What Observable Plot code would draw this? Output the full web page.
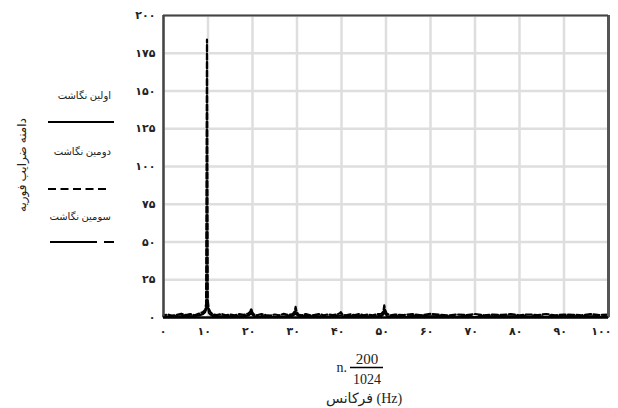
<!DOCTYPE html>
<html><head><meta charset="utf-8">
<script src="https://cdn.jsdelivr.net/npm/d3@7"></script>
<script src="https://cdn.jsdelivr.net/npm/@observablehq/plot@0.6"></script>
<style>body{margin:0;background:#fff}</style>
</head><body><div id="chart"></div>
<script>
const freq = [0,1,2,3,4,5,6,7,8,8.8,
  9.38,9.57,9.77,9.96,10.16,10.55,11,12,13,14,
  15,16,17,18,19,19.53,19.73,19.92,20.3,21,
  22,23,24,25,26,27,28,29,29.49,29.69,
  29.88,30.3,31,32,33,34,35,36,37,38,
  39,39.65,39.84,40.2,41,42,43,44,45,46,
  47,48,49,49.41,49.61,49.8,50.2,51,52,54,
  56,58,60,62,64,66,68,70,72,74,
  76,78,80,82,84,86,88,90,92,94,
  96,98,100];
const record1 = [0.4,0.6,0.5,0.7,0.6,0.8,0.7,0.9,1.2,2.0,
  3.5,5.0,9.0,6.5,3.0,1.8,1.0,0.7,0.6,0.5,
  0.6,0.5,0.7,0.8,1.2,2.2,3.0,2.0,1.0,0.6,
  0.5,0.6,0.5,0.4,0.6,0.5,0.7,1.0,2.0,3.0,
  2.0,1.0,0.6,0.5,0.4,0.5,0.6,0.5,0.4,0.6,
  0.8,1.2,1.5,0.9,0.5,0.4,0.5,0.6,0.5,0.4,
  0.5,0.6,0.9,2.0,4.0,2.5,1.0,0.6,0.5,0.4,
  0.5,0.4,0.6,0.5,0.4,0.5,0.6,0.4,0.5,0.6,
  0.5,0.4,0.5,0.6,0.4,0.5,0.4,0.6,0.5,0.4,
  0.5,0.4,0.5];
const record2 = [1.5,2.0,1.2,1.8,2.5,1.6,2.2,1.5,2.6,3.5,
  5.0,9.0,184,11,6.0,3.5,2.2,1.6,2.4,1.5,
  2.0,1.4,2.2,1.8,2.5,4.0,6.0,3.5,2.0,1.5,
  2.2,1.6,1.3,2.0,1.5,2.4,1.7,2.2,4.0,7.0,
  4.0,2.0,1.5,2.2,1.4,1.8,2.3,1.5,2.0,1.6,
  2.0,2.8,3.5,2.0,1.4,2.1,1.6,2.3,1.5,2.0,
  1.4,2.2,2.5,4.0,8.0,5.0,2.4,1.5,2.0,1.6,
  2.2,1.5,2.4,1.8,1.4,2.0,1.6,2.3,1.5,2.0,
  1.7,2.2,1.5,2.0,1.6,2.3,1.4,2.0,1.8,1.5,
  2.2,1.6,2.0];
const record3 = [0.8,1.0,1.3,0.9,1.1,1.4,1.0,1.2,1.6,2.5,
  4.0,6.0,12,8.0,4.5,2.5,1.5,1.1,0.9,1.2,
  1.0,1.3,0.9,1.1,1.5,2.5,3.5,2.2,1.3,1.0,
  1.2,0.9,1.1,1.3,1.0,0.8,1.2,1.4,2.5,4.0,
  2.5,1.2,1.0,1.3,0.9,1.1,1.0,1.2,0.8,1.1,
  1.3,1.8,2.0,1.4,1.0,1.2,0.9,1.1,1.3,1.0,
  1.2,0.9,1.4,2.5,5.0,3.0,1.4,1.0,1.2,0.9,
  1.1,1.3,1.0,1.2,0.9,1.1,1.3,1.0,1.2,0.9,
  1.1,1.0,1.2,1.3,0.9,1.1,1.0,1.2,0.9,1.1,
  1.0,1.2,1.0];
const seriesNames = ["اولین نگاشت", "دومین نگاشت", "سومین نگاشت"];
const xTicks = [0,10,20,30,40,50,60,70,80,90,100];
const yTicks = [0,25,50,75,100,125,150,175,200];
const yLabel = "دامنه ضرایب فوریه";
const xLabel = "فرکانس (Hz)";
const fracNum = "200", fracDen = "1024", fracPrefix = "n.";

const fa = n => String(n).replace(/\d/g, d => "۰۱۲۳۴۵۶۷۸۹"[+d]);
const rows = arr => freq.map((f, i) => ({f, a: arr[i]}));
const FONT = "'Liberation Serif', 'DejaVu Sans', serif";
const dashes = [null, "6,2.5", "47,7,10,7"];

const W = 618, H = 408, mL = 163, mR = 10, mT = 15, mB = 91;
// phase the dashed spectrum so the dash pattern is symmetric about its highest point
const sx = Plot.scale({x: {domain: [0, 100], range: [mL, W - mR]}});
const sy = Plot.scale({y: {domain: [0, 200], range: [H - mB, mT]}});
const peakIdx = record2.indexOf(d3.max(record2));
let pathLen = 0;
for (let i = 1; i <= peakIdx; i++) {
  pathLen += Math.hypot(sx.apply(freq[i]) - sx.apply(freq[i-1]), sy.apply(record2[i]) - sy.apply(record2[i-1]));
}
const dashP = 8.5, dashD = 6;
const dashOff = (((dashD / 2 - pathLen) % dashP) + dashP) % dashP;

const plot = Plot.plot({
  width: W, height: H,
  marginLeft: mL, marginRight: mR, marginTop: mT, marginBottom: mB,
  style: {fontFamily: FONT, fontSize: "10px", background: "white", overflow: "visible"},
  x: {domain: [0, 100], label: null},
  y: {domain: [0, 200], label: null},
  marks: [
    Plot.gridX(xTicks, {stroke: "#dedede", strokeWidth: 2.5, strokeOpacity: 1}),
    Plot.gridY(yTicks, {stroke: "#dedede", strokeWidth: 2.5, strokeOpacity: 1}),
    Plot.line(rows(record1), {x: "f", y: "a", stroke: "#000", strokeWidth: 1.8}),
    Plot.line(rows(record3), {x: "f", y: "a", stroke: "#000", strokeWidth: 1.6, strokeDasharray: dashes[2]}),
    Plot.line(rows(record2), {x: "f", y: "a", stroke: "#000", strokeWidth: 2.2, strokeDasharray: dashes[1], strokeDashoffset: dashOff}),
    Plot.ruleX([0], {stroke: "#444", strokeWidth: 2.5}),
    Plot.ruleX([100], {stroke: "#555", strokeWidth: 3}),
    Plot.ruleY([200], {stroke: "#444", strokeWidth: 2}),
    Plot.ruleY([0], {stroke: "#000", strokeWidth: 2.5}),
    Plot.axisX(xTicks, {tickSize: 0, tickPadding: 10, textAnchor: "end", dx: 3, tickFormat: fa, fill: "#222", fontSize: 11, fontWeight: "bold"}),
    Plot.axisY(yTicks, {tickSize: 0, tickPadding: 8, tickFormat: fa, fill: "#222", fontSize: 11, fontWeight: "bold"})
  ]
});
document.getElementById("chart").appendChild(plot);

const svg = d3.select(plot);
const g = svg.append("g").attr("font-family", FONT).attr("fill", "#222");

// y-axis title
g.append("text").attr("transform", "translate(26,165) rotate(-90)")
  .attr("text-anchor", "middle").attr("font-size", 12).text(yLabel);

// legend
const legY = [99, 155, 220];
const lineY = [122, 189, 242];
seriesNames.forEach((name, i) => {
  g.append("text").attr("x", 111).attr("y", legY[i]).attr("text-anchor", "end")
    .attr("font-size", 10).text(name);
  g.append("line").attr("x1", i === 2 ? 50 : 48).attr("x2", i === 1 ? 109 : 114).attr("y1", lineY[i]).attr("y2", lineY[i])
    .attr("stroke", "#000").attr("stroke-width", 2)
    .attr("stroke-dasharray", i === 1 ? "8,4.5" : dashes[i]);
});

// x-axis title: n.200/1024 and frequency label
g.append("text").attr("x", 347).attr("y", 372).attr("text-anchor", "end")
  .attr("font-size", 14).text(fracPrefix);
g.append("text").attr("x", 367).attr("y", 364).attr("text-anchor", "middle")
  .attr("font-size", 15).text(fracNum);
g.append("line").attr("x1", 350).attr("x2", 383).attr("y1", 367.5).attr("y2", 367.5)
  .attr("stroke", "#000").attr("stroke-width", 1.5);
g.append("text").attr("x", 367).attr("y", 384).attr("text-anchor", "middle")
  .attr("font-size", 14).text(fracDen);
g.append("text").attr("x", 364).attr("y", 403).attr("text-anchor", "middle")
  .attr("font-size", 14).text(xLabel);
</script>
</body></html>
